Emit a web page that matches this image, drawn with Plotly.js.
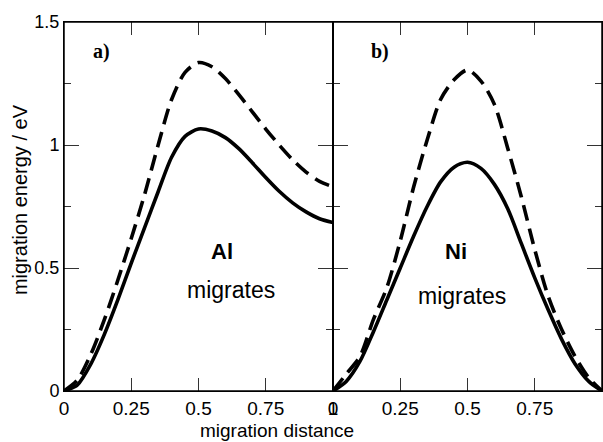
<!DOCTYPE html>
<html>
<head>
<meta charset="utf-8">
<script src="https://cdn.plot.ly/plotly-3.0.1.min.js"></script>
<style>
html,body{margin:0;padding:0;background:#fff;}
#wrap{position:relative;width:603px;height:442px;overflow:hidden;}
#panelA,#panelB,#overlay{position:absolute;left:0;top:0;width:603px;height:442px;}
</style>
</head>
<body>
<div id="wrap"><div id="panelA"></div><div id="panelB"></div><div id="overlay"></div></div>
<script>
// Migration distance (reaction coordinate)
const distance = [0, 0.05, 0.1, 0.15, 0.2, 0.25, 0.3, 0.35, 0.4, 0.45, 0.5, 0.55, 0.6, 0.65, 0.7, 0.75, 0.8, 0.85, 0.9, 0.95, 1.0];
// Panel a) Al migrates
const alSolid  = [0, 0.025, 0.11, 0.23, 0.37, 0.52, 0.665, 0.81, 0.95, 1.035, 1.065, 1.057, 1.03, 0.985, 0.928, 0.868, 0.812, 0.765, 0.728, 0.70, 0.685];
const alDashed = [0, 0.045, 0.15, 0.29, 0.45, 0.62, 0.80, 1.00, 1.185, 1.295, 1.335, 1.318, 1.27, 1.205, 1.135, 1.065, 1.00, 0.94, 0.89, 0.852, 0.83];
// Panel b) Ni migrates
const niSolid  = [0, 0.04, 0.12, 0.24, 0.37, 0.50, 0.63, 0.75, 0.85, 0.91, 0.93, 0.905, 0.84, 0.74, 0.60, 0.46, 0.33, 0.21, 0.11, 0.04, 0];
const niDashed = [0, 0.07, 0.14, 0.29, 0.42, 0.61, 0.83, 1.02, 1.185, 1.265, 1.305, 1.26, 1.165, 0.985, 0.79, 0.575, 0.385, 0.25, 0.14, 0.055, 0];
// Tick labels
const xTickVals = [0, 0.25, 0.5, 0.75, 1];
const xTickText = ['0', '0.25', '0.5', '0.75', '1'];
const yTickVals = [0, 0.5, 1, 1.5];
const yTickText = ['0', '0.5', '1', '1.5'];

const font = 'Liberation Sans, Arial, sans-serif';
const serif = 'Liberation Serif, Times New Roman, serif';
const solid = {color: '#000', width: 3.6, shape: 'spline', smoothing: 0.8};
const dashed = {color: '#000', width: 3.6, dash: '16px,8px', shape: 'spline', smoothing: 0.8};
const cfg = {staticPlot: true};

function xAxis() {
  return {
    range: [0, 1], tickmode: 'array', tickvals: xTickVals, ticktext: xTickText,
    ticks: 'inside', ticklen: 13, tickcolor: '#333', tickwidth: 1,
    showline: true, linecolor: '#000', linewidth: 1, mirror: 'ticks',
    showgrid: false, zeroline: false,
    tickfont: {family: font, size: 19, color: '#000'}
  };
}
function yAxis(showLabels) {
  return {
    range: [0, 1.5], tickmode: 'array', tickvals: yTickVals, ticktext: yTickText,
    ticks: 'inside', ticklen: 15, tickcolor: '#333', tickwidth: 1,
    minor: {dtick: 0.25, ticks: 'inside', ticklen: 7, tickcolor: '#333', tickwidth: 1},
    showline: true, linecolor: '#000', linewidth: 1, mirror: 'ticks',
    showgrid: false, zeroline: false, showticklabels: showLabels,
    tickfont: {family: font, size: 18, color: '#000'}
  };
}
function hidden(range, domain, anchor) {
  return {range: range, domain: domain, anchor: anchor, visible: false, showgrid: false, zeroline: false};
}
function note(text, x, y, size, fam, xref, yref, extra) {
  return Object.assign({text: text, xref: xref, yref: yref, x: x, y: y, xanchor: 'center', yanchor: 'middle',
    showarrow: false, font: {family: fam, size: size, color: '#000'}}, extra || {});
}
function frame(xr, yr) {
  return {type: 'rect', xref: xr, yref: yr, x0: 0, x1: 1, y0: 0, y1: 1, line: {color: '#000', width: 1.5}, fillcolor: 'rgba(0,0,0,0)'};
}

// Panel a) frame + solid curve: plot area 64..333 px
Plotly.newPlot('panelA', [
  {x: distance, y: alSolid, mode: 'lines', line: solid}
], {
  width: 603, height: 442, margin: {l: 64, r: 270, t: 22, b: 51}, showlegend: false,
  paper_bgcolor: '#fff', plot_bgcolor: '#fff',
  xaxis: xAxis(), yaxis: yAxis(true)
}, cfg);

// Panel b) frame + solid curve: plot area 333..602 px
Plotly.newPlot('panelB', [
  {x: distance, y: niSolid, mode: 'lines', line: solid}
], {
  width: 603, height: 442, margin: {l: 333, r: 1, t: 22, b: 51}, showlegend: false,
  paper_bgcolor: 'rgba(0,0,0,0)', plot_bgcolor: 'rgba(0,0,0,0)',
  xaxis: xAxis(), yaxis: yAxis(false)
}, cfg);

// Overlay: dashed curves, panel frames and all texts, on the same two plot areas
Plotly.newPlot('overlay', [
  {x: distance, y: alDashed, mode: 'lines', line: dashed, xaxis: 'x', yaxis: 'y'},
  {x: distance, y: niDashed, mode: 'lines', line: dashed, xaxis: 'x2', yaxis: 'y2'}
], {
  width: 603, height: 442, margin: {l: 64, r: 1, t: 22, b: 51}, showlegend: false,
  paper_bgcolor: 'rgba(0,0,0,0)', plot_bgcolor: 'rgba(0,0,0,0)',
  xaxis: hidden([0, 1], [0, 0.5], 'y'),
  yaxis: hidden([0, 1.5], [0, 1], 'x'),
  xaxis2: hidden([0, 1], [0.5, 1], 'y2'),
  yaxis2: hidden([0, 1.5], [0, 1], 'x2'),
  shapes: [frame('x domain', 'y domain'), frame('x2 domain', 'y2 domain')],
  annotations: [
    note('migration distance', 0.396, -0.106, 19, font, 'paper', 'paper'),
    note('migration energy / eV', -0.0818, 0.52, 20, font, 'paper', 'paper', {textangle: -90}),
    note('<b>a)</b>', 0.14, 1.38, 20, serif, 'x', 'y'),
    note('<b>Al</b>', 0.588, 0.569, 22, font, 'x', 'y'),
    note('migrates', 0.621, 0.41, 23, font, 'x', 'y'),
    note('<b>b)</b>', 0.175, 1.38, 20, serif, 'x2', 'y2'),
    note('<b>Ni</b>', 0.458, 0.566, 22, font, 'x2', 'y2'),
    note('migrates', 0.481, 0.385, 23, font, 'x2', 'y2')
  ]
}, cfg);
</script>
</body>
</html>
